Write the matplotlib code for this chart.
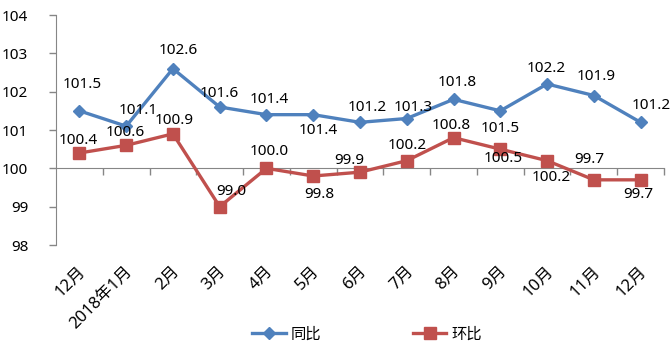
import matplotlib
matplotlib.use("Agg")
import matplotlib.pyplot as plt
from matplotlib import transforms

plt.rcParams['font.family'] = ['Noto Sans', 'Noto Sans CJK SC', 'DejaVu Sans']

categories = ['12月', '2018年1月', '2月', '3月', '4月', '5月', '6月', '7月', '8月', '9月', '10月', '11月', '12月']
yoy = [101.5, 101.1, 102.6, 101.6, 101.4, 101.4, 101.2, 101.3, 101.8, 101.5, 102.2, 101.9, 101.2]
mom = [100.4, 100.6, 100.9, 99.0, 100.0, 99.8, 99.9, 100.2, 100.8, 100.5, 100.2, 99.7, 99.7]
series_names = ['同比', '环比']
yticks = [98, 99, 100, 101, 102, 103, 104]

# label offsets in pixels (dx, dy up)
yoy_off = [(3, 26), (12, 16), (5, 18), (0, 14), (3, 15), (5, -16), (7, 15), (6, 11),
           (4, 17), (0, -18), (-1, 16), (2, 19), (11, 17)]
mom_off = [(-1, 13), (-1, 13), (1, 13), (12, 15), (3, 17), (6, -18), (-11, 12), (0, 15),
           (-2, 12), (3, -9), (4, -17), (-5, 20), (-2, -15)]

blue = '#4F81BD'
red = '#C0504D'
axis_col = '#868686'
fs = 11

fig = plt.figure(figsize=(6.71, 3.62), dpi=100)
ax = fig.add_axes([56/671, 1-245/362, (664-56)/671, 230/362])

x = list(range(len(categories)))
l1, = ax.plot(x, yoy, color=blue, lw=2.4, marker='D', ms=6.5, label=series_names[0], zorder=3)
l2, = ax.plot(x, mom, color=red, lw=2.4, marker='s', ms=8.5, label=series_names[1], zorder=3)

for i, v in enumerate(yoy):
    ax.annotate(f'{v:.1f}', (i, v), xytext=yoy_off[i], textcoords='offset pixels',
                ha='center', va='center', fontsize=fs, color='black', zorder=4)
for i, v in enumerate(mom):
    ax.annotate(f'{v:.1f}', (i, v), xytext=mom_off[i], textcoords='offset pixels',
                ha='center', va='center', fontsize=fs, color='black', zorder=4)

ax.set_xlim(-0.5, len(categories) - 0.5)
ax.set_ylim(98, 104)
ax.set_yticks(yticks)
ax.set_yticklabels([str(t) for t in yticks], fontsize=fs)
ax.tick_params(axis='y', direction='out', length=5, width=1, color=axis_col, pad=15)

# x axis at 100 with boundary ticks
ax.spines['bottom'].set_position(('data', 100))
ax.spines['bottom'].set_color(axis_col)
ax.spines['left'].set_color(axis_col)
ax.spines['top'].set_visible(False)
ax.spines['right'].set_visible(False)
ax.set_xticks([i + 0.5 for i in x])
ax.set_xticklabels([])
ax.tick_params(axis='x', direction='out', length=5, width=1, color=axis_col)

# category labels below the plot
trans = transforms.blended_transform_factory(ax.transData, ax.transAxes)
for i, c in enumerate(categories):
    off = transforms.ScaledTranslation(4/100, -24/100, fig.dpi_scale_trans)
    ax.text(i, 0, c, transform=trans + off, rotation=45, rotation_mode='anchor',
            ha='right', va='center', fontsize=12, clip_on=False)

fig.legend(handles=[l1, l2], loc='center', bbox_to_anchor=(367/671, 1-335/362),
           ncol=2, frameon=False, fontsize=fs, handlelength=2.2, columnspacing=6,
           handletextpad=0.3)

fig.savefig('out.png', dpi=100)
